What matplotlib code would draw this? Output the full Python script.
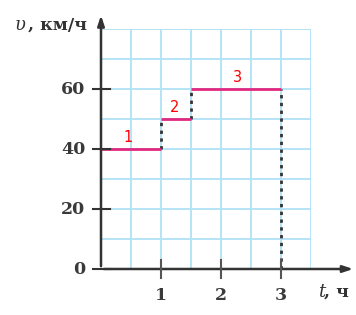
import matplotlib
matplotlib.use("Agg")
import matplotlib.pyplot as plt

# данные графика скорости
t_start = [0, 1, 1.5]
t_end = [1, 1.5, 3]
speed = [40, 50, 60]
seg_labels = ["1", "2", "3"]
x_ticks = [1, 2, 3]
y_ticks = [0, 20, 40, 60]

fig = plt.figure(figsize=(3.56, 3.15), dpi=100)
ax = fig.add_axes([101 / 356, 46 / 315, 210 / 356, 240 / 315])
ax.set_xlim(0, 3.5)
ax.set_ylim(0, 80)

grid_c = "#b5e3f6"
for gx in [0.5 * i for i in range(1, 8)]:
    ax.axvline(gx, color=grid_c, lw=1.4, zorder=1)
for gy in range(10, 81, 10):
    ax.axhline(gy, color=grid_c, lw=1.4, zorder=1)

for s in ax.spines.values():
    s.set_visible(False)
ax.set_xticks([])
ax.set_yticks([])

# горизонтальные отрезки
for a, b, v in zip(t_start, t_end, speed):
    ax.plot([a, b], [v, v], color="#e0287e", lw=2, zorder=3, solid_capstyle="butt")

# пунктирные вертикали
dash = (0, (1.2, 1.6))
ax.plot([t_end[0], t_end[0]], [speed[0], speed[1]], color="#333333", lw=2, ls=dash, zorder=2)
ax.plot([t_end[1], t_end[1]], [speed[1], speed[2]], color="#333333", lw=2, ls=dash, zorder=2)
ax.plot([t_end[2], t_end[2]], [0, speed[2]], color="#333333", lw=2, ls=dash, zorder=2)

# подписи отрезков
lab_x = [0.45, 1.23, 2.27]
for lx, v, txt in zip(lab_x, speed, seg_labels):
    ax.text(lx, v + 1.5, txt, color="red", fontsize=10.5, ha="center", va="bottom",
            family="DejaVu Sans", zorder=4)

# оси со стрелками
ax.annotate("", xy=(0, 85.5), xytext=(0, 0), annotation_clip=False,
            arrowprops=dict(arrowstyle="-|>,head_length=0.6,head_width=0.2", color="#333333", lw=1.8))
ax.annotate("", xy=(4.25, 0), xytext=(0, 0), annotation_clip=False,
            arrowprops=dict(arrowstyle="-|>,head_length=0.6,head_width=0.2", color="#333333", lw=1.8))

# засечки
for yt in y_ticks:
    ax.plot([-0.13, 0.15], [yt, yt], color="#333333", lw=1.5, clip_on=False, zorder=5)
    ax.text(-0.26, yt, str(yt), ha="right", va="center", fontsize=12.5,
            family="DejaVu Serif", color="#3a3a3a", fontweight="bold")
for xt in x_ticks:
    ax.plot([xt, xt], [-3, 3], color="#555555", lw=1.5, clip_on=False, zorder=5)
    ax.text(xt, -6, str(xt), ha="center", va="top", fontsize=12.5,
            family="DejaVu Serif", color="#3a3a3a", fontweight="bold")

fig.text(15 / 356, 1 - 25 / 315, "υ", ha="left", va="center", fontsize=13,
         family="DejaVu Serif", color="#333333", style="italic")
fig.text(28 / 356, 1 - 25 / 315, ", км/ч", ha="left", va="center", fontsize=12.5,
         family="DejaVu Serif", color="#333333", fontweight="bold")
fig.text(318 / 356, 1 - 292 / 315, "t", ha="left", va="center", fontsize=13,
         family="DejaVu Serif", color="#333333", style="italic")
fig.text(324 / 356, 1 - 292 / 315, ", ч", ha="left", va="center", fontsize=12.5,
         family="DejaVu Serif", color="#333333", fontweight="bold")

fig.savefig("out.png", dpi=100)
